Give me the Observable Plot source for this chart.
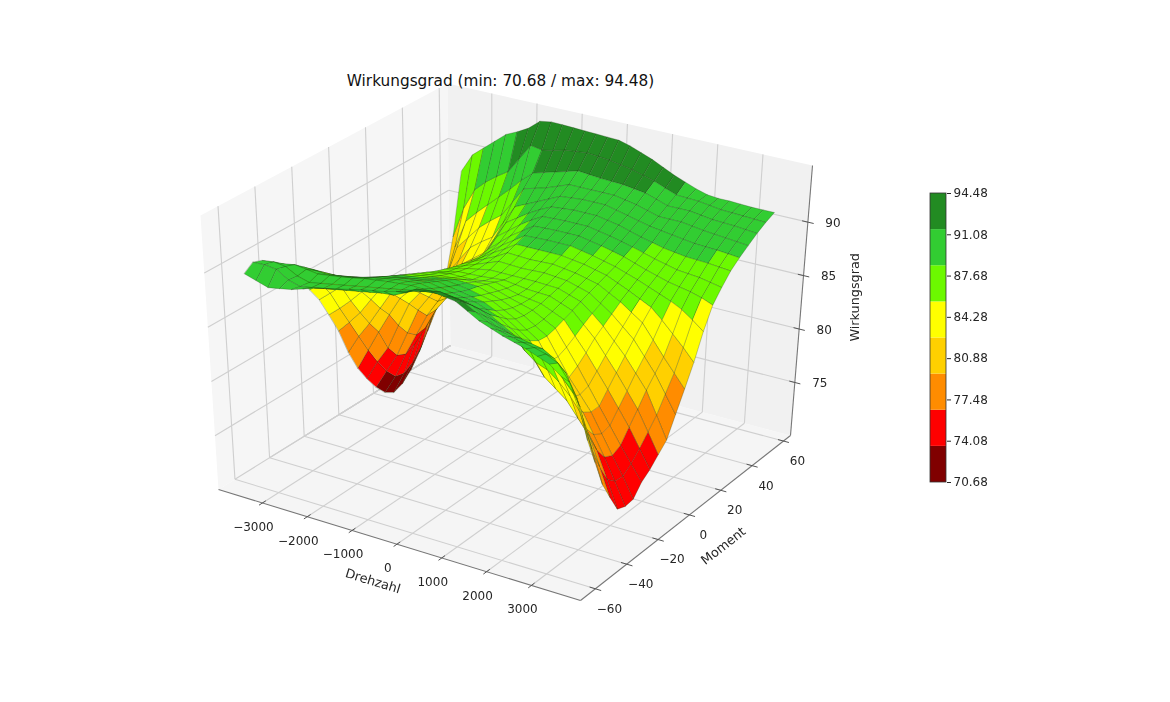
<!DOCTYPE html>
<html><head><meta charset="utf-8">
<script src="https://cdn.jsdelivr.net/npm/d3@7"></script>
<script src="https://cdn.jsdelivr.net/npm/@observablehq/plot@0.6"></script>
<style>
html,body{margin:0;background:#fff;font-family:"DejaVu Sans",sans-serif}
#wrap{position:relative;width:1170px;height:702px;overflow:hidden}
#wrap svg{filter:blur(.45px)}
#main,#bar{position:absolute}
#main{left:0;top:0}#bar{left:900px;top:180px}
#title{position:absolute;left:0;width:1001px;top:72px;text-align:center;font-size:15.3px;color:#111}
</style></head><body>
<div id="wrap"><div id="main"></div><div id="bar"></div><div id="title">Wirkungsgrad (min: 70.68 / max: 94.48)</div></div>
<script>
const drehzahl=d3.range(29).map(i=>-3500+i*250);
const moment=[60,55,50,45,40,35,30,25,20,15,10,5,0,-5,-10,-15,-20,-25,-30,-35,-40,-45,-50,-55,-60];
const r60=[87.8,89.6,90.5,91.4,92.3,92.8,93.4,94.3,94.48,94.45,94.4,94.35,94.3,94.25,94.2,93.9,93.5,93.1,92.6,92.1,91.7,91.3,91,90.9,90.9,90.85,90.8,90.8,90.8];
const r55=[82,85,87,88,88.8,89.5,91,92.5,92.3,92.5,92.8,92.9,93,92.9,92.8,92.6,92.4,92.1,91.8,91.4,91,90.95,90.9,90.75,90.6,90.55,90.5,90.45,90.4];
const r50=[78,81.8,84.5,85.6,86.6,87.6,88.6,89.7,90.6,90.9,91.2,91.5,91.8,91.7,91.6,91.55,91.5,91.35,91.2,90.85,90.5,90.5,90.5,90.35,90.2,90.15,90.1,90,89.9];
const r45=[76,79.5,82.5,83.7,84.9,85.8,86.6,88.1,89.6,89.9,90.2,90.6,91,91,91,91,91,90.8,90.6,90.3,90,90,90,89.85,89.7,89.6,89.5,89.4,89.3];
const r40=[74.5,77.6,80.7,82.1,83.5,84.3,85,86.7,88.4,88.9,89.4,89.9,90.4,90.5,90.6,90.6,90.6,90.35,90.1,89.85,89.6,89.45,89.3,89.15,89,88.95,88.9,88.8,88.7];
const r35=[73,76,79.2,80.8,82.4,83.2,84,85.7,87.4,88.1,88.8,89.4,89.9,90,90.1,90.1,90.1,89.9,89.7,89.4,89.1,88.85,88.6,88.45,88.3,88.25,88.2,88.1,88];
const r30=[71.8,74.3,78,79.6,81.3,82.2,83.2,84.9,86.6,87.4,88.2,88.9,89.5,89.55,89.6,89.6,89.6,89.4,89.2,88.95,88.7,88.4,88.1,87.85,87.6,87.5,87.4,87.2,87];
const r25=[71,73.3,76.8,78.5,80.3,81.5,82.6,84.2,85.9,86.8,87.7,88.4,89.1,89.15,89.2,89.2,89.2,89,88.8,88.55,88.3,87.95,87.6,87.3,87,86.8,86.6,86.3,85.9];
const r20=[70.68,72.8,75.8,77.6,79.6,81,82.5,84.1,85.7,86.5,87.3,88,88.7,88.75,88.8,88.8,88.8,88.6,88.4,88.15,87.9,87.55,87.2,86.8,86.4,86,85.5,84.8,84];
const r15=[71.2,73,75.4,77.5,79.6,81.2,82.9,84.3,85.8,86.4,87.1,87.7,88.4,88.4,88.4,88.4,88.4,88.25,88.1,87.85,87.6,87.15,86.7,86.2,85.7,84.8,83.8,82.8,81.7];
const r10=[72.2,74,75.8,78.2,80.6,82.1,83.6,84.8,86,86.5,87,87.5,88.1,88.05,88,88.05,88.1,87.95,87.8,87.55,87.3,86.75,86.2,85.5,84.8,83.5,82.2,81,79.8];
const r5=[73.5,75.4,77,79.4,81.7,83,84.4,85.3,86.2,86.6,87,87.4,87.8,87.75,87.7,87.75,87.8,87.7,87.6,87.3,87,86.3,85.6,84.7,83.8,82.5,81.2,79.6,78];
const r0=[75,77,79,80.9,82.7,83.8,85,85.7,86.5,86.8,87.1,87.3,87.5,87.5,87.5,87.5,87.5,87.45,87.4,87.05,86.7,85.9,85,83.9,82.8,81.5,80.2,78.2,76.2];
const rm5=[77,78.8,80.3,82,83.7,84.6,85.6,86.2,86.8,87,87.3,87.35,87.4,87.5,87.6,87.45,87.3,87.25,87.2,86.8,86.4,85.4,84.4,83.1,81.8,80.4,79,77.2,75.4];
const rm10=[79.5,80.6,81.8,83.3,84.7,85.4,86.2,86.7,87.2,87.4,87.6,87.6,87.6,87.75,87.9,87.6,87.3,87.15,87,86.55,86.1,84.85,83.6,82.2,80.8,79.35,77.9,76.25,74.6];
const rm15=[81.5,82.4,83.4,84.5,85.6,86.15,86.7,87.15,87.6,87.75,87.9,88,88.1,88.15,88.2,87.85,87.5,87.2,86.9,86.35,85.8,84.35,82.9,81.35,79.8,78.3,76.8,75.4,74];
const rm20=[83.4,84.3,85.2,85.8,86.3,86.75,87.2,87.6,88,88.15,88.3,88.45,88.6,88.55,88.5,88.15,87.8,87.35,86.9,86.25,85.6,84,82.4,81.1,79.8,78.1,76.4,74.8,73];
const rm25=[84.8,85.7,86.4,86.7,87,87.3,87.6,88,88.4,88.55,88.7,88.85,89,88.85,88.7,88.45,88.2,87.65,87.1,86.4,85.7,84.1,82.5,81.4,80.3,78.55,76.8,74.9,72.9];
const rm30=[86.4,86.9,87.4,87.5,87.6,87.85,88.1,88.45,88.8,88.95,89.1,89.25,89.4,89.2,89,88.8,88.6,88.1,87.6,86.9,86.2,84.7,83.2,82.25,81.3,79.65,78,75.6,73.2];
const rm35=[87.4,87.8,88.2,88.2,88.2,88.4,88.6,88.9,89.2,89.4,89.6,89.7,89.8,89.6,89.4,89.25,89.1,88.7,88.3,87.6,86.9,85.45,84,83.2,82.4,81.1,79.8,77.3,74.8];
const rm40=[88.3,88.6,88.9,88.85,88.8,88.95,89.1,89.35,89.6,89.8,90,90.1,90.2,90,89.8,89.7,89.6,89.3,89,88.4,87.8,86.6,85.8,85.4,84.6,83.6,82.3,79.4,76.5];
const rm45=[89.2,89.4,89.6,89.45,89.3,89.45,89.6,89.8,90,90.15,90.3,90.4,90.5,90.45,90.4,90.4,90.4,90.15,89.9,89.3,88.7,88.2,87.8,87.4,86.8,85.8,84.6,82,79];
const rm50=[89.9,90.05,89.9,89.3,89,89.2,89.4,89.6,89.8,90,90.2,90.4,90.6,90.8,91,91.1,91.2,91,90.8,90.15,89.5,89.2,89,88.8,88.6,88,87,85,81.5];
const rm55=[90.2,90.25,90.1,89.4,89.1,89.3,89.5,89.7,89.9,90.1,90.3,90.5,90.6,91.1,91.7,91.85,92,91.8,91.6,91,90.4,89.9,89.6,89.4,89.2,88.9,88.4,87,85];
const rm60=[89.6,89.25,88.9,89.1,89.3,89.65,90,90.25,90.5,90.75,91,91.2,91.4,91.7,92,92.25,92.5,92.35,92.2,91.6,91,90.6,90.2,89.9,89.6,89.2,88.8,88,87];
const rows=[r60,r55,r50,r45,r40,r35,r30,r25,r20,r15,r10,r5,r0,rm5,rm10,rm15,rm20,rm25,rm30,rm35,rm40,rm45,rm50,rm55,rm60];
const xTicks=[-3000,-2000,-1000,0,1000,2000,3000];
const yTicks=[-60,-40,-20,0,20,40,60];
const zTicks=[75,80,85,90];
const barTicks=[70.68,74.08,77.48,80.88,84.28,87.68,91.08,94.48];
const bandEdges=[70.68,73.655,76.63,79.605,82.58,85.555,88.53,91.505,94.48];
const bandColors=["#800000","#ff0000","#ff8c00","#ffd000","#ffff00","#6cf900","#32cd32","#228b22"];
const xLim=[-3980,4095],yLim=[-69.5,64.5],zLim=[70.04,95.3];
// screen positions of the eight corners of the axes box
const corner={"000":[218,489],"100":[580,600],"110":[790,435],"010":[450,345],"001":[200,215],"101":[586,315],"111":[812,165],"011":[447,83]};
function P(x,y,z){
  const u=(x-xLim[0])/(xLim[1]-xLim[0]),v=(y-yLim[0])/(yLim[1]-yLim[0]),w=(z-zLim[0])/(zLim[1]-zLim[0]);
  const r=[0,0];
  for(const a of [0,1])for(const b of [0,1])for(const c of [0,1]){
    const k=(a?u:1-u)*(b?v:1-v)*(c?w:1-w),p=corner[""+a+b+c];
    r[0]+=k*p[0];r[1]+=k*p[1];
  }
  return r;
}
const depth=(x,y,z)=>{
  const u=(x-xLim[0])/(xLim[1]-xLim[0])-.5,v=(y-yLim[0])/(yLim[1]-yLim[0])-.5,w=(z-zLim[0])/(zLim[1]-zLim[0])-.5;
  return .433*u-.75*v+.5*w;
};
// surface cells, far ones first
const cells=[];
for(let j=0;j<moment.length-1;j++)for(let i=0;i<drehzahl.length-1;i++){
  const q=[[i,j],[i+1,j],[i+1,j+1],[i,j+1]].map(([a,b])=>[drehzahl[a],moment[b],rows[b][a]]);
  const val=d3.mean(q,d=>d[2]);
  cells.push({q,val,d:d3.mean(q,d=>depth(...d))});
}
cells.sort((a,b)=>a.d-b.d);
const cellPts=[];
cells.forEach((c,id)=>c.q.forEach(p=>{const s=P(...p);cellPts.push({id,val:c.val,sx:s[0],sy:s[1]});}));
// panes
const [x0,x1]=xLim,[y0,y1]=yLim,[z0,z1]=zLim;
const pane=(id,pts)=>pts.map(p=>{const s=P(...p);return{id,sx:s[0],sy:s[1]};});
const panes=[
 ...pane("floor",[[x0,y0,z0],[x1,y0,z0],[x1,y1,z0],[x0,y1,z0]]),
 ...pane("left",[[x0,y0,z0],[x0,y1,z0],[x0,y1,z1],[x0,y0,z1]]),
 ...pane("back",[[x0,y1,z0],[x1,y1,z0],[x1,y1,z1],[x0,y1,z1]])];
const paneFill={floor:"#f5f5f5",left:"#f6f6f6",back:"#f1f1f1"};
const seg=(a,b)=>{const s=P(...a),t=P(...b);return{x1:s[0],y1:s[1],x2:t[0],y2:t[1]};};
const grid=[
 ...xTicks.flatMap(x=>[seg([x,y0,z0],[x,y1,z0]),seg([x,y1,z0],[x,y1,z1])]),
 ...yTicks.flatMap(y=>[seg([x0,y,z0],[x1,y,z0]),seg([x0,y,z0],[x0,y1+0*y,z0]),seg([x0,y,z0],[x0,y,z1])]),
 ...zTicks.flatMap(z=>[seg([x0,y0,z],[x0,y1,z]),seg([x0,y1,z],[x1,y1,z])])];
const axes=[seg([x0,y0,z0],[x1,y0,z0]),seg([x1,y0,z0],[x1,y1,z0]),seg([x1,y1,z0],[x1,y1,z1])];
const tickSegs=[
 ...xTicks.map(x=>seg([x,y0+2,z0],[x,y0-2,z0])),
 ...yTicks.map(y=>seg([x1-130,y,z0],[x1+130,y,z0])),
 ...zTicks.map(z=>seg([x1-130,y1,z],[x1+130,y1,z]))];
const lbl=(s,p,dx,dy)=>{const q=P(...p);return{s,sx:q[0]+dx,sy:q[1]+dy};};
const fmt=v=>String(v).replace("-","\u2212");
const labels=[
 ...xTicks.map(x=>lbl(fmt(x),[x,y0,z0],-9,24)),
 ...yTicks.map(y=>lbl(fmt(y),[x1,y,z0],14,20)),
 ...zTicks.map(z=>lbl(fmt(z),[x1,y1,z],25,1))];
const T=(d,o)=>Plot.text(d,{x:"sx",y:"sy",text:"s",fontFamily:"DejaVu Sans",fontSize:12,fill:"#262626",...o});
const link=(d,o)=>Plot.link(d,{x1:"x1",y1:"y1",x2:"x2",y2:"y2",...o});
const dz=P(0,y0,z0),mo=P(x1,0,z0),wi=P(x1,y1,82.5);
document.getElementById("main").append(Plot.plot({
  width:1170,height:702,margin:0,
  x:{domain:[0,1170],range:[0,1170],axis:null},
  y:{domain:[0,702],range:[0,702],axis:null},
  color:{type:"threshold",domain:bandEdges.slice(1,-1),range:bandColors},
  style:{background:"transparent"},
  marks:[
    Plot.line(panes,{x:"sx",y:"sy",z:"id",fill:d=>paneFill[d.id],stroke:"none",curve:"linear-closed"}),
    link(grid,{stroke:"#cfcfcf",strokeWidth:1.1}),
    link(axes,{stroke:"#777",strokeWidth:1.1}),
    link(tickSegs,{stroke:"#555",strokeWidth:1}),
    Plot.line(cellPts,{x:"sx",y:"sy",z:"id",fill:"val",stroke:"#1c3a10",strokeOpacity:.45,strokeWidth:.6,curve:"linear-closed"}),
    T(labels),
    T([{s:"Drehzahl",sx:dz[0]-24,sy:dz[1]+37}],{rotate:17,fontSize:12.8}),
    T([{s:"Moment",sx:mo[0]+34,sy:mo[1]+31}],{rotate:-38,fontSize:12.8}),
    T([{s:"Wirkungsgrad",sx:wi[0]+54,sy:wi[1]-5}],{rotate:-90,fontSize:12.8})
  ]
}));
const bands=bandColors.map((c,i)=>({c,a:bandEdges[i],b:bandEdges[i+1]}));
document.getElementById("bar").append(Plot.plot({
  width:110,height:315,marginLeft:30,marginRight:64,marginTop:13,marginBottom:13,
  x:{domain:[0,1],axis:null},
  y:{domain:[70.68,94.48],axis:null},
  marks:[
    Plot.rectY(bands,{x1:0,x2:1,y1:"a",y2:"b",fill:"c"}),
    Plot.rect([0],{x1:0,x2:1,y1:70.68,y2:94.48,stroke:"#333",strokeWidth:.8,fill:"none"}),
    Plot.axisY({anchor:"right",ticks:barTicks,tickFormat:d=>d.toFixed(2),tickSize:4,tickPadding:3,fontSize:12,label:null,fontFamily:"DejaVu Sans",color:"#262626"})
  ]
}));
</script></body></html>
